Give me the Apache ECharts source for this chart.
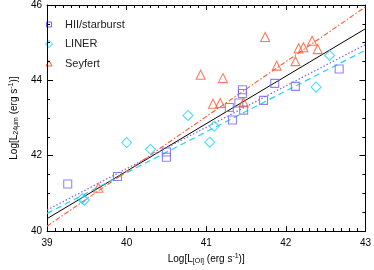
<!DOCTYPE html>
<html>
<head>
<meta charset="utf-8">
<script src="https://cdn.jsdelivr.net/npm/echarts@6/dist/echarts.min.js"></script>
<style>html,body{margin:0;padding:0;background:#fff}#c{width:374px;height:270px}</style>
</head>
<body>
<div id="c"></div>
<script>
// ---- data ----
var seriesNames = ['HII/starburst', 'LINER', 'Seyfert'];
var seriesSymbols = ['rect', 'diamond', 'triangle'];
var hiiX = [39.26, 39.885, 40.50, 40.50, 41.29, 41.455, 41.455, 41.41, 41.47, 41.33, 41.72, 41.86, 42.12, 42.67];
var hiiY = [41.25, 41.45, 42.10, 41.96, 43.28, 43.75, 43.65, 43.40, 43.21, 42.95, 43.47, 43.92, 43.84, 44.30];
var linerX = [39.44, 39.47, 40.00, 40.30, 40.77, 41.045, 41.10, 42.38, 42.55];
var linerY = [40.86, 40.82, 42.35, 42.17, 43.07, 42.36, 42.78, 43.82, 44.66];
var seyX = [39.645, 40.93, 41.21, 41.085, 41.175, 41.47, 41.74, 41.885, 42.16, 42.22, 42.12, 42.33, 42.40];
var seyY = [41.15, 44.15, 44.06, 43.38, 43.40, 43.42, 45.15, 44.39, 44.85, 44.88, 44.51, 45.05, 44.83];
// fit lines: endpoints at x = 39 and x = 43
var fitX = [39, 43];
var fitAllY = [40.33, 45.37];
var fitHiiY = [40.56, 44.95];
var fitLinerY = [40.47, 44.80];
var fitSeyY = [40.13, 45.95];
var xTicks = [39, 40, 41, 42, 43];
var yTicks = [40, 42, 44, 46];

function pairs(xs, ys) { return xs.map(function (x, i) { return [x, ys[i]]; }); }

var colHii = '#7565ee', colLiner = '#22d6f6', colSey = '#ff5a36';
var cols = [colHii, colLiner, colSey];
var font = 'Liberation Sans';

var chart = echarts.init(document.getElementById('c'), null, {renderer: 'canvas'});

var richName = {
  a: {fontSize: 10, fontFamily: font, color: '#000', lineHeight: 12},
  s: {fontSize: 7, fontFamily: font, color: '#000', lineHeight: 7, verticalAlign: 'bottom', padding: [4, 0, 0, 0]},
  p: {fontSize: 7, fontFamily: font, color: '#000', lineHeight: 7, verticalAlign: 'top', padding: [0, 0, 4, 0]}
};

function xAx(pos, show) {
  return {
    type: 'value', position: pos, min: xTicks[0], max: xTicks[xTicks.length - 1], interval: 1,
    axisLine: {show: true, onZero: false, lineStyle: {color: '#000', width: 1}},
    axisTick: {show: true, inside: true, length: 5, lineStyle: {color: '#000'}},
    minorTick: {show: true, splitNumber: 10, length: 3, lineStyle: {color: '#000'}},
    splitLine: {show: false},
    axisLabel: {show: show, color: '#000', fontSize: 10, fontFamily: font, margin: 7},
    name: show ? '{a|Log[L}{s|[OI]}{a| (erg s}{p|-1}{a|)]}' : '',
    nameLocation: 'middle', nameGap: 19,
    nameTextStyle: {color: '#000', fontFamily: font, rich: richName}
  };
}
function yAx(pos, show) {
  return {
    type: 'value', position: pos, min: yTicks[0], max: yTicks[yTicks.length - 1], interval: 2,
    axisLine: {show: true, onZero: false, lineStyle: {color: '#000', width: 1}},
    axisTick: {show: true, inside: true, length: 6, lineStyle: {color: '#000'}},
    minorTick: {show: true, splitNumber: 4, length: 3, lineStyle: {color: '#000'}},
    splitLine: {show: false},
    axisLabel: {show: show, color: '#000', fontSize: 10, fontFamily: font, margin: 5},
    name: show ? '{a|Log[L}{s|24μm}{a| (erg s}{p|-1}{a|)]}' : '',
    nameLocation: 'middle', nameGap: 20, nameRotate: 90,
    nameTextStyle: {color: '#000', fontFamily: font, rich: richName}
  };
}

// legend (key glyphs + real text) drawn as graphic elements
var keyX = 49, keyY0 = 24.5, keyStep = 19.5, textX = 65;
var legendGraphics = [
  {type: 'rect', shape: {x: keyX - 2.5, y: keyY0 - 2.5, width: 5, height: 5},
   style: {fill: 'none', stroke: colHii, lineWidth: 1}},
  {type: 'polygon', shape: {points: [[keyX, keyY0 + keyStep - 3.5], [keyX + 3.5, keyY0 + keyStep], [keyX, keyY0 + keyStep + 3.5], [keyX - 3.5, keyY0 + keyStep]]},
   style: {fill: 'none', stroke: colLiner, lineWidth: 1}},
  {type: 'polygon', shape: {points: [[keyX, keyY0 + 2 * keyStep - 3], [keyX + 3, keyY0 + 2 * keyStep + 2.5], [keyX - 3, keyY0 + 2 * keyStep + 2.5]]},
   style: {fill: 'none', stroke: colSey, lineWidth: 1}}
];
seriesNames.forEach(function (n, i) {
  legendGraphics.push({
    type: 'text', x: textX, y: keyY0 + i * keyStep,
    style: {text: n, font: '11px "' + font + '"', fill: '#222', verticalAlign: 'middle', textVerticalAlign: 'middle', align: 'left'}
  });
});

var option = {
  animation: false,
  backgroundColor: '#fff',
  grid: {left: 30, right: 6, top: 4, bottom: 27, containLabel: false},
  graphic: legendGraphics,
  xAxis: [xAx('bottom', true), xAx('top', false)],
  yAxis: [yAx('left', true), yAx('right', false)],
  series: [
    {name: 'fitAll', type: 'line', data: pairs(fitX, fitAllY), showSymbol: false, silent: true,
     lineStyle: {color: '#000', width: 1, type: 'solid'}, z: 1},
    {name: 'fitHii', type: 'line', data: pairs(fitX, fitHiiY), showSymbol: false, silent: true,
     lineStyle: {color: colHii, width: 1.2, type: [1.5, 2]}, z: 1},
    {name: 'fitLiner', type: 'line', data: pairs(fitX, fitLinerY), showSymbol: false, silent: true,
     lineStyle: {color: colLiner, width: 1.2, type: [6, 4]}, z: 1},
    {name: 'fitSey', type: 'line', data: pairs(fitX, fitSeyY), showSymbol: false, silent: true,
     lineStyle: {color: colSey, width: 1.1, type: [5, 2, 1.5, 2]}, z: 1},
    {name: seriesNames[0], type: 'scatter', data: pairs(hiiX, hiiY), symbol: seriesSymbols[0], symbolSize: 8,
     itemStyle: {color: 'rgba(0,0,0,0)', borderColor: colHii, borderWidth: 1.1}, z: 3},
    {name: seriesNames[1], type: 'scatter', data: pairs(linerX, linerY), symbol: seriesSymbols[1], symbolSize: 10,
     itemStyle: {color: 'rgba(0,0,0,0)', borderColor: colLiner, borderWidth: 1.1}, z: 3},
    {name: seriesNames[2], type: 'scatter', data: pairs(seyX, seyY), symbol: seriesSymbols[2], symbolSize: 9,
     itemStyle: {color: 'rgba(0,0,0,0)', borderColor: colSey, borderWidth: 1.1}, z: 3}
  ]
};
chart.setOption(option);
</script>
</body>
</html>
